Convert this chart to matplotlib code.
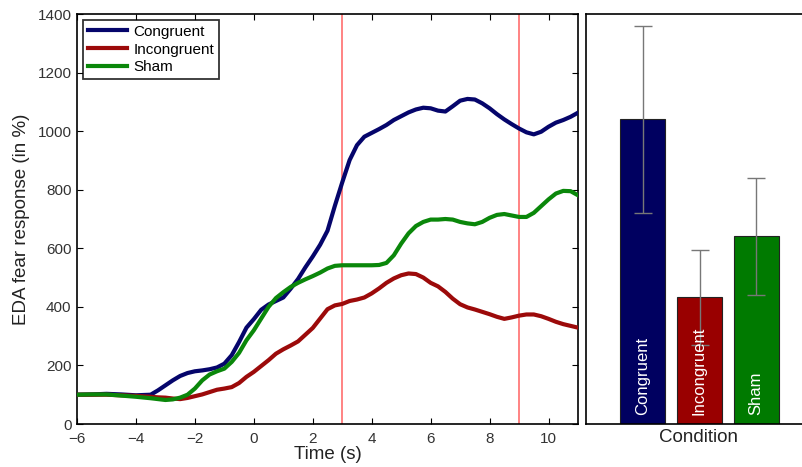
import matplotlib.pyplot as plt

plt.rcParams["font.family"] = ["Liberation Sans", "DejaVu Sans"]

# time axis (s): coarse steps on the flat baseline, quarter seconds after
time = [-6, -5.5, -5, -4.5, -4, -3.5,
        -3.25, -3, -2.75, -2.5, -2.25, -2, -1.75, -1.5, -1.25, -1, -0.75, -0.5, -0.25,
        0, 0.25, 0.5, 0.75, 1, 1.25, 1.5, 1.75, 2, 2.25, 2.5, 2.75,
        3, 3.25, 3.5, 3.75, 4, 4.25, 4.5, 4.75, 5, 5.25, 5.5, 5.75,
        6, 6.25, 6.5, 6.75, 7, 7.25, 7.5, 7.75, 8, 8.25, 8.5, 8.75,
        9, 9.25, 9.5, 9.75, 10, 10.25, 10.5, 10.75, 11]

congruent = [100, 101, 103, 101, 98, 100,
             115, 132, 149, 164, 174, 180, 183, 187, 193, 206, 235, 280, 329,
             358, 390, 408, 420, 432, 462, 495, 535, 572, 612, 660, 745,
             825, 901, 952, 981, 994, 1007, 1021, 1038, 1051, 1064, 1074, 1080,
             1078, 1070, 1067, 1085, 1104, 1110, 1108, 1095, 1078, 1058, 1040, 1024,
             1009, 996, 989, 998, 1015, 1029, 1038, 1049, 1063]
incongruent = [100, 100, 100, 98, 96, 93,
               91, 90, 87, 85, 89, 95, 101, 109, 117, 121, 126, 140, 161,
               178, 198, 218, 240, 255, 268, 282, 305, 328, 360, 392, 405,
               410, 420, 425, 432, 446, 463, 482, 497, 508, 514, 512, 500,
               482, 470, 451, 428, 409, 398, 391, 383, 375, 366, 359, 364,
               370, 374, 374, 368, 359, 349, 341, 335, 329]
sham = [100, 101, 101, 97, 93, 88,
        85, 82, 84, 90, 100, 121, 149, 169, 180, 189, 212, 243, 286,
        320, 360, 400, 430, 450, 468, 482, 494, 505, 517, 531, 540,
        542, 542, 542, 542, 542, 543, 550, 576, 616, 651, 676, 690,
        698, 698, 700, 698, 690, 685, 682, 690, 704, 714, 717, 712,
        707, 707, 721, 744, 767, 787, 796, 795, 781]

event_times = [3, 9]

conditions = ["Congruent", "Incongruent", "Sham"]
bar_means = [1040, 433, 641]
bar_errors = [320, 162, 199]

line_colors = ["#05056b", "#9c0a0a", "#0a870a"]
bar_colors = ["#000060", "#990000", "#007a00"]


def main():
    fig = plt.figure(figsize=(8.02, 4.67), dpi=100)
    ax = fig.add_axes([77 / 802, 43 / 467, 501 / 802, 410 / 467])

    for x in event_times:
        ax.axvline(x, color="#ff7a7a", lw=1.3, zorder=1)

    ax.plot(time, congruent, color=line_colors[0], lw=3, label="Congruent", zorder=3)
    ax.plot(time, incongruent, color=line_colors[1], lw=3, label="Incongruent", zorder=3)
    ax.plot(time, sham, color=line_colors[2], lw=3, label="Sham", zorder=3)

    ax.set_xlim(-6, 11)
    ax.set_ylim(0, 1400)
    ax.set_xticks(range(-6, 11, 2))
    ax.set_yticks(range(0, 1401, 200))
    ax.tick_params(direction="in", top=True, right=True, length=4, labelsize=11,
                   labelcolor="#333333", width=0.8)
    ax.tick_params(axis="x", pad=6)
    ax.tick_params(axis="y", pad=4)
    for sp in ax.spines.values():
        sp.set_linewidth(1.2)
    ax.set_xlabel("Time (s)", fontsize=13.5, color="#222222", labelpad=0)
    ax.set_ylabel("EDA fear response (in %)", fontsize=13.5, color="#222222", labelpad=5)

    leg = ax.legend(loc="upper left", fontsize=11, handlelength=2.6, borderpad=0.3,
                    labelspacing=0.25, handletextpad=0.4, fancybox=False,
                    bbox_to_anchor=(0.0, 1.0), borderaxespad=0.4)
    leg.get_frame().set_edgecolor("black")
    leg.get_frame().set_linewidth(1.3)

    # bar panel
    bx = fig.add_axes([586 / 802, 43 / 467, 227 / 802, 410 / 467])
    pos = [1, 2, 3]
    bx.bar(pos, bar_means, width=0.8, color=bar_colors, edgecolor="#222222", lw=0.8, zorder=2)
    bx.errorbar(pos, bar_means, yerr=bar_errors, fmt="none", ecolor="#777777",
                elinewidth=1, capsize=6.5, capthick=1, zorder=3)
    for p, name in zip(pos, conditions):
        bx.text(p, 30, name, rotation=90, ha="center", va="bottom", color="white",
                fontsize=12, zorder=4)
    bx.set_xlim(0, 4)
    bx.set_ylim(0, 1400)
    bx.set_xticks([])
    bx.set_yticks([])
    for sp in bx.spines.values():
        sp.set_linewidth(1.2)
    bx.set_xlabel("Condition", fontsize=13.5, color="#222222")
    bx.xaxis.set_label_coords((699 - 586) / 227, -0.012, transform=bx.transAxes)
    bx.xaxis.label.set_va("top")

    fig.savefig("out.png", dpi=100)


if __name__ == "__main__":
    main()
